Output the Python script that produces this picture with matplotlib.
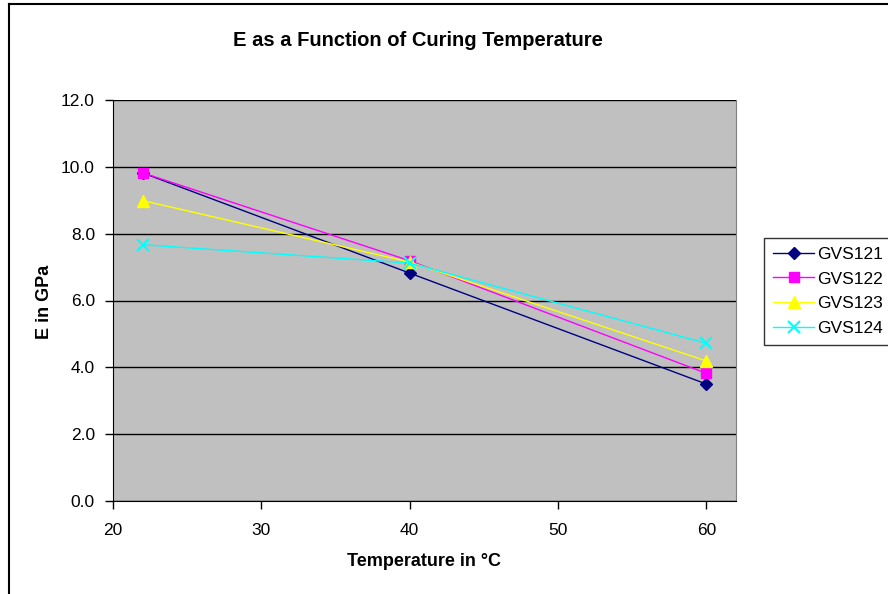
import matplotlib.pyplot as plt
from matplotlib.lines import Line2D

plt.rcParams['font.family'] = ['Liberation Sans', 'DejaVu Sans']

temps = [22, 40, 60]
gvs121 = [9.82, 6.82, 3.50]
gvs122 = [9.82, 7.19, 3.82]
gvs123 = [8.99, 7.15, 4.19]
gvs124 = [7.67, 7.12, 4.72]

series = [
    ("GVS121", gvs121, '#000080', 'D', 6),
    ("GVS122", gvs122, '#FF00FF', 's', 7),
    ("GVS123", gvs123, '#FFFF00', '^', 8),
    ("GVS124", gvs124, '#00FFFF', 'x', 8),
]

W, H = 888, 594
fig = plt.figure(figsize=(W / 100, H / 100), dpi=100)
ax = fig.add_axes([113 / W, 1 - 501 / H, 623 / W, 401 / H])
ax.set_facecolor('#C0C0C0')

# outer chart border (cropped on right/bottom in the reference)
fig.add_artist(Line2D([9 / W, 9 / W], [0, 1 - 4 / H], color='black', lw=1.5))
fig.add_artist(Line2D([9 / W, 1], [1 - 4 / H, 1 - 4 / H], color='black', lw=1.5))

for name, vals, color, marker, ms in series:
    ax.plot(temps, vals, color=color, lw=1, marker=marker, markersize=ms,
            markeredgecolor=color, markerfacecolor=color, label=name,
            markeredgewidth=1.5 if marker == 'x' else 1)

ax.set_xlim(20, 62)
ax.set_ylim(0, 12)
ax.set_xticks([20, 30, 40, 50, 60])
ax.set_yticks([0, 2, 4, 6, 8, 10, 12])
ax.set_yticklabels([f"{v:.1f}" for v in [0, 2, 4, 6, 8, 10, 12]])
ax.yaxis.grid(True, color='black', lw=1)
ax.set_axisbelow(True)
ax.tick_params(direction='out', length=6, width=1, labelsize=12.5, colors='black')
ax.tick_params(axis='y', pad=7)
ax.tick_params(axis='x', pad=10)

ax.spines['top'].set_visible(False)
ax.spines['right'].set_color('#808080')
ax.spines['left'].set_color('black')
ax.spines['bottom'].set_color('black')

fig.text(418 / W, 1 - 40 / H, "E as a Function of Curing Temperature",
         fontsize=14.5, fontweight='bold', ha='center', va='center')
fig.text(424 / W, 1 - 562 / H, "Temperature in °C",
         fontsize=13, fontweight='bold', ha='center', va='center')
fig.text(44 / W, 1 - 302 / H, "E in GPa", rotation=90,
         fontsize=13, fontweight='bold', ha='center', va='center')

leg = ax.legend(loc='upper left', bbox_to_anchor=(764 / W, 1 - 238 / H),
                bbox_transform=fig.transFigure, fontsize=12.5, frameon=True,
                fancybox=False, borderaxespad=0, handlelength=2.4,
                labelspacing=0.55, borderpad=0.5, handletextpad=0.15)
leg.get_frame().set_edgecolor('black')
leg.get_frame().set_linewidth(1)

fig.savefig('out.png', dpi=100)
